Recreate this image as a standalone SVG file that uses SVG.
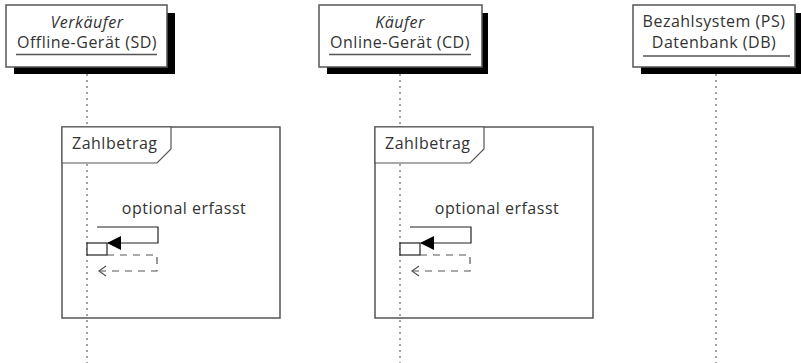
<svg xmlns="http://www.w3.org/2000/svg" width="801" height="363" viewBox="0 0 801 363">
<style>
.shadow{fill:#000}
.box{fill:#fff;stroke:#555;stroke-width:1.5}
.uline{stroke:#555;stroke-width:1.5}
.life{stroke:#444;stroke-width:1;stroke-dasharray:2,4}
.frame{fill:none;stroke:#555;stroke-width:1.5}
.tab{fill:#fff;stroke:#555;stroke-width:1.2}
.t{font-family:"Open Sans","Noto Sans",sans-serif;font-size:16px;letter-spacing:0.5px;fill:#333;text-anchor:middle}
.tl{font-family:"Open Sans","Noto Sans",sans-serif;font-size:16px;letter-spacing:0.5px;fill:#333}
.it{font-style:italic}
.msg{fill:none;stroke:#222;stroke-width:1.2}
.ret{fill:none;stroke:#555;stroke-width:1.2;stroke-dasharray:7,6}
.act{fill:#fff;stroke:#222;stroke-width:1.2}
</style>
<defs>
<marker id="fill" markerWidth="14" markerHeight="14" refX="13" refY="7" orient="auto" markerUnits="userSpaceOnUse" viewBox="0 0 14 14">
<path d="M0,0 L14,7 L0,14 Z" fill="#000"/>
</marker>
<marker id="open" markerWidth="10" markerHeight="14" refX="9" refY="7" orient="auto" markerUnits="userSpaceOnUse" viewBox="0 0 10 14">
<path d="M2,2 L9,7 L2,12" fill="none" stroke="#555" stroke-width="1.2"/>
</marker>
</defs>
<g id="lifelines">
<line class="life" x1="87" y1="74" x2="87" y2="363"/>
<line class="life" x1="400" y1="74" x2="400" y2="363"/>
<line class="life" x1="716" y1="74" x2="716" y2="363"/>
</g>
<g id="SD">
<rect class="shadow" x="14" y="13" width="161" height="61"/>
<rect class="box" x="6" y="5" width="161" height="62"/>
<text class="t it" x="87" y="28">Verkäufer</text>
<text class="t" x="87" y="48">Offline-Gerät (SD)</text>
<line class="uline" x1="16" y1="54.5" x2="157" y2="54.5"/>
</g>
<g id="CD">
<rect class="shadow" x="327" y="13" width="161" height="61"/>
<rect class="box" x="319" y="5" width="163" height="62"/>
<text class="t it" x="400" y="28">Käufer</text>
<text class="t" x="400" y="48">Online-Gerät (CD)</text>
<line class="uline" x1="329" y1="54.5" x2="471" y2="54.5"/>
</g>
<g id="PS">
<rect class="shadow" x="641" y="13" width="162" height="61"/>
<rect class="box" x="633" y="5" width="162" height="62"/>
<text class="t" x="714" y="27">Bezahlsystem (PS)</text>
<text class="t" x="714" y="48">Datenbank (DB)</text>
<line class="uline" x1="643" y1="56" x2="790" y2="56"/>
</g>
<g id="frame1">
<rect class="frame" x="62" y="127" width="218" height="191"/>
<path class="tab" d="M62,127 L171,127 L171,149 L157,163 L62,163 Z"/>
<text class="tl" x="72" y="149">Zahlbetrag</text>
</g>
<g id="frame2">
<rect class="frame" x="375" y="127" width="218" height="191"/>
<path class="tab" d="M375,127 L484,127 L484,149 L470,163 L375,163 Z"/>
<text class="tl" x="385" y="149">Zahlbetrag</text>
</g>
<g id="act1"><rect class="act" x="87" y="243" width="20" height="12"/></g>
<g id="act2"><rect class="act" x="400" y="243" width="20" height="12"/></g>
<g id="connectors">
<text class="t" x="184" y="214">optional erfasst</text>
<path class="msg" d="M97,227 L158,227 L158,243 L108,243" marker-end="url(#fill)"/>
<path class="ret" d="M107,255 L157,255 L157,271 L99,271" marker-end="url(#open)"/>
<text class="t" x="497" y="214">optional erfasst</text>
<path class="msg" d="M410,227 L471,227 L471,243 L421,243" marker-end="url(#fill)"/>
<path class="ret" d="M420,255 L470,255 L470,271 L412,271" marker-end="url(#open)"/>
</g>
</svg>
